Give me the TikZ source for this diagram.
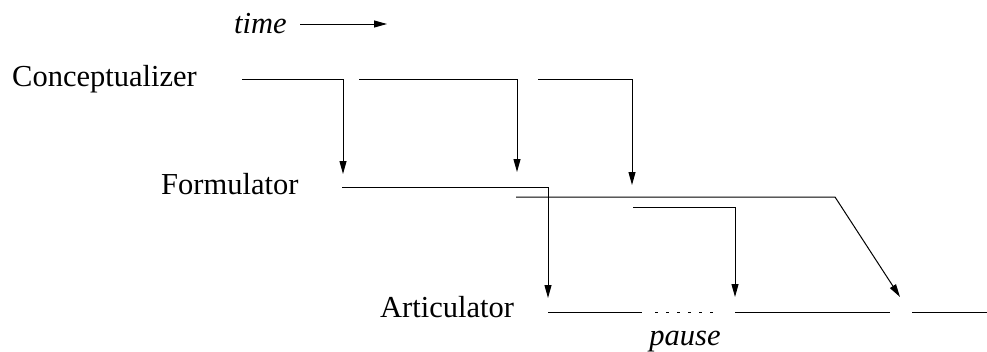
\documentclass[tikz,border=0pt]{standalone}
\usepackage{fontspec}
\setmainfont{Liberation Serif}
\usetikzlibrary{arrows.meta}
\begin{document}
\begin{tikzpicture}[x=1pt,y=-1pt,
  lbl/.style={inner sep=0pt,anchor=base west,font=\fontsize{30.5}{36}\selectfont},
  ilbl/.style={inner sep=0pt,anchor=base,font=\fontsize{30.5}{36}\selectfont\itshape},
  ln/.style={line width=1pt},
  arr/.style={line width=1pt,-{Triangle[length=13pt,width=7pt]}},
  dotline/.style={line width=1pt,dash pattern=on 3pt off 8pt}]
\useasboundingbox (0,0) rectangle (987,351);
% labels
\node[ilbl,anchor=base west] (time) at (234,33) {time};
\node[lbl] (concept) at (12,86) {Conceptualizer};
\node[lbl] (form) at (161,194) {Formulator};
\node[lbl] (artic) at (380,317) {Articulator};
\node[ilbl] (pause) at (685,345) {pause};
% time arrow
\coordinate (t0) at (300,24);
\coordinate (t1) at (387,24);
\draw[arr] (t0) -- (t1);
% conceptualizer
\coordinate (c1a) at (242,79); \coordinate (c1b) at (343,79); \coordinate (c1e) at (343,174);
\coordinate (c2a) at (359,79); \coordinate (c2b) at (517,79); \coordinate (c2e) at (517,172);
\coordinate (c3a) at (538,79); \coordinate (c3b) at (632,79); \coordinate (c3e) at (632,185);
\draw[arr] (c1a) -- (c1b) -- (c1e);
\draw[arr] (c2a) -- (c2b) -- (c2e);
\draw[arr] (c3a) -- (c3b) -- (c3e);
% formulator
\coordinate (f1a) at (342,187); \coordinate (f1b) at (548,187); \coordinate (f1e) at (548,298);
\coordinate (f2a) at (516,197); \coordinate (f2b) at (835,197); \coordinate (f2e) at (900,297);
\coordinate (f3a) at (633,207); \coordinate (f3b) at (735,207); \coordinate (f3e) at (735,297);
\draw[arr] (f1a) -- (f1b) -- (f1e);
\draw[arr] (f2a) -- (f2b) -- (f2e);
\draw[arr] (f3a) -- (f3b) -- (f3e);
% articulator
\coordinate (a1) at (548,312); \coordinate (a2) at (642,312);
\coordinate (d1) at (655,312); \coordinate (d2) at (713,312);
\coordinate (a3) at (735,312); \coordinate (a4) at (890,312);
\coordinate (a5) at (912,312); \coordinate (a6) at (987,312);
\draw[ln] (a1) -- (a2);
\draw[dotline] (d1) -- (d2);
\draw[ln] (a3) -- (a4);
\draw[ln] (a5) -- (a6);
\end{tikzpicture}
\end{document}
